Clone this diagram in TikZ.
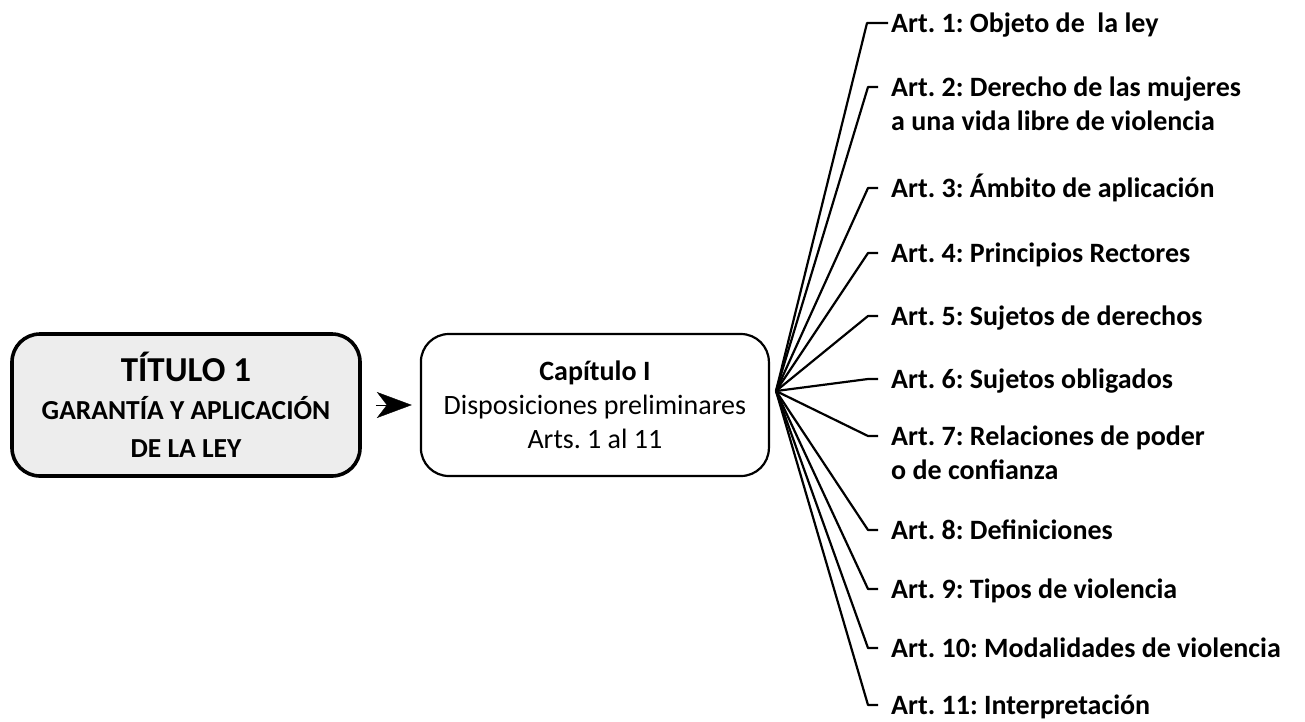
\documentclass[tikz,border=0pt]{standalone}
\usepackage{fontspec}
\setmainfont{Carlito}
\frenchspacing
\usetikzlibrary{positioning,arrows.meta}

\tikzset{
  box/.style={draw, rounded corners=28pt, minimum width=348pt, minimum height=142pt, align=center},
  art/.style={anchor=base west, inner sep=0pt, align=left, font=\fontsize{28}{34}\selectfont\bfseries},
  branch/.style={line width=2.2pt, line join=round}
}

\begin{document}
\begin{tikzpicture}[x=1pt, y=-1pt]
\useasboundingbox (0,0) rectangle (1305,721);

% Define nodes
\node[box, line width=3.6pt, fill=black!7, font=\fontsize{27.5}{38}\selectfont\bfseries] (titulo) at (186,405)
  {{\fontsize{35}{40}\selectfont TÍTULO 1}\\GARANTÍA Y APLICACIÓN\\DE LA LEY};
\node[box, line width=2.2pt, right=58pt of titulo, font=\fontsize{28}{34}\selectfont] (capitulo)
  {\textbf{Capítulo I}\\Disposiciones preliminares\\Arts. 1 al 11};
\coordinate (fan) at ([shift={(6pt,14pt)}]capitulo.east);

% labels (two-line ones sit on their last baseline)
\node[art] (art1) at (891,32) {Art. 1: Objeto de\ \ la ley};
\node[art] (art2) at (891,130) {Art. 2: Derecho de las mujeres\\a una vida libre de violencia};
\node[art] (art3) at (891,197) {Art. 3: Ámbito de aplicación};
\node[art] (art4) at (891,262) {Art. 4: Principios Rectores};
\node[art] (art5) at (891,325) {Art. 5: Sujetos de derechos};
\node[art] (art6) at (891,388) {Art. 6: Sujetos obligados};
\node[art] (art7) at (891,479) {Art. 7: Relaciones de poder\\o de confianza};
\node[art] (art8) at (891,539) {Art. 8: Definiciones};
\node[art] (art9) at (891,598) {Art. 9: Tipos de violencia};
\node[art] (art10) at (891,657) {Art. 10: Modalidades de violencia};
\node[art] (art11) at (891,714) {Art. 11: Interpretación};

% Draw arrows
\draw[-{Stealth[length=35pt, width=26pt, inset=10pt]}, line width=0.4pt, shorten <=14pt, shorten >=8pt] (titulo) -- (capitulo);

\draw[branch] (fan) -- ([shift={(-24pt,9pt)}]art1.base west) -- ([shift={(-3pt,9pt)}]art1.base west);
\draw[branch] (fan) -- ([shift={(-23pt,43pt)}]art2.base west) -- ([shift={(-13pt,43pt)}]art2.base west);
\draw[branch] (fan) -- ([shift={(-23pt,9pt)}]art3.base west) -- ([shift={(-13pt,9pt)}]art3.base west);
\draw[branch] (fan) -- ([shift={(-23pt,9pt)}]art4.base west) -- ([shift={(-13pt,9pt)}]art4.base west);
\draw[branch] (fan) -- ([shift={(-23pt,9pt)}]art5.base west) -- ([shift={(-13pt,9pt)}]art5.base west);
\draw[branch] (fan) -- ([shift={(-23pt,9pt)}]art6.base west) -- ([shift={(-13pt,9pt)}]art6.base west);
\draw[branch] (fan) -- ([shift={(-23pt,43pt)}]art7.base west) -- ([shift={(-13pt,43pt)}]art7.base west);
\draw[branch] (fan) -- ([shift={(-23pt,9pt)}]art8.base west) -- ([shift={(-13pt,9pt)}]art8.base west);
\draw[branch] (fan) -- ([shift={(-23pt,9pt)}]art9.base west) -- ([shift={(-13pt,9pt)}]art9.base west);
\draw[branch] (fan) -- ([shift={(-23pt,9pt)}]art10.base west) -- ([shift={(-13pt,9pt)}]art10.base west);
\draw[branch] (fan) -- ([shift={(-23pt,9pt)}]art11.base west) -- ([shift={(-13pt,9pt)}]art11.base west);

\end{tikzpicture}
\end{document}
